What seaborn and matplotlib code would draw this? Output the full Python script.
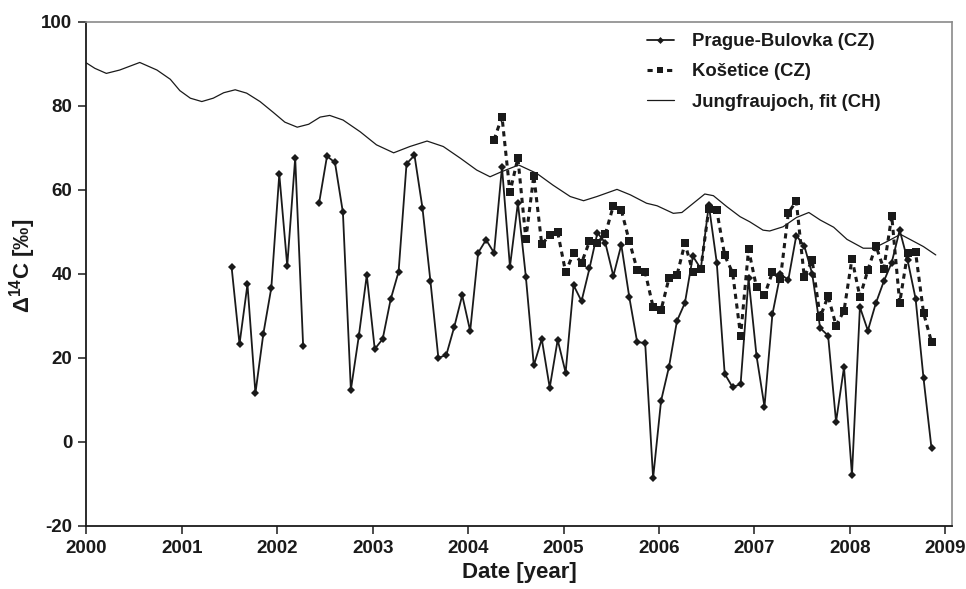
import numpy as np
import pandas as pd
import matplotlib
matplotlib.use("Agg")
import matplotlib.pyplot as plt
import seaborn as sns
from matplotlib.lines import Line2D

# ---------------- data ----------------
# Monthly samples, Prague-Bulovka from 2001-07 (None = missing month)
prague_start = "2001-07"
prague_values = [
    41.7, 23.3, 37.5, 11.6, 25.8, 36.7,                 # 2001 Jul-Dec
    63.7, 41.9, 67.6, 22.8, None, 56.8, 68.0, 66.5, 54.6, 12.4, 25.2, 39.7,   # 2002
    22.1, 24.5, 33.9, 40.5, 66.2, 68.2, 55.7, 38.3, 20.0, 20.7, 27.4, 34.9,   # 2003
    26.4, 45.0, 48.1, 45.0, 65.4, 41.7, 56.9, 39.3, 18.2, 24.5, 12.9, 24.3,   # 2004
    16.5, 37.3, 33.5, 41.3, 49.8, 47.3, 39.5, 46.9, 34.5, 23.7, 23.6, -8.6,   # 2005
    9.8, 17.9, 28.8, 33.1, 44.2, 41.2, 56.4, 42.7, 16.2, 13.0, 13.8, 38.9,    # 2006
    20.5, 8.4, 30.4, 39.9, 38.6, 49.1, 46.7, 40.0, 27.1, 25.3, 4.8, 17.8,     # 2007
    -7.9, 32.1, 26.5, 33.0, 38.2, 42.7, 50.4, 43.2, 34.1, 15.1, -1.5,         # 2008 Jan-Nov
]

# Monthly samples, Kosetice from 2004-04
kosetice_start = "2004-04"
kosetice_values = [
    71.9, 77.4, 59.4, 67.6, 48.3, 63.4, 47.0, 49.2, 49.9,                     # 2004 Apr-Dec
    40.4, 45.0, 42.6, 47.7, 47.3, 49.5, 56.2, 55.2, 47.8, 41.0, 40.4, 32.1,   # 2005
    31.4, 39.0, 39.7, 47.3, 40.4, 41.2, 55.5, 55.1, 44.4, 40.2, 25.3, 45.8,   # 2006
    36.8, 34.9, 40.4, 38.8, 54.5, 57.3, 39.3, 43.2, 29.7, 34.7, 27.7, 31.2,   # 2007
    43.6, 34.5, 40.9, 46.7, 41.2, 53.8, 33.1, 45.0, 45.1, 30.7, 23.8,         # 2008 Jan-Nov
]
sample_day = 9  # approximate sampling day within each month

# Jungfraujoch fit curve (decimal year, value)
jf_years = [
    2000.00, 2000.09, 2000.21, 2000.35, 2000.56, 2000.74, 2000.88, 2000.98,
    2001.09, 2001.21, 2001.33, 2001.44, 2001.56, 2001.68, 2001.82, 2001.96,
    2002.08, 2002.21, 2002.33, 2002.45, 2002.55, 2002.69, 2002.87, 2003.04,
    2003.22, 2003.39, 2003.57, 2003.74, 2003.92, 2004.09, 2004.23, 2004.35,
    2004.53, 2004.72, 2004.89, 2005.07, 2005.21, 2005.35, 2005.56, 2005.70,
    2005.87, 2005.98, 2006.15, 2006.24, 2006.36, 2006.48, 2006.57, 2006.71,
    2006.85, 2006.95, 2007.09, 2007.16, 2007.30, 2007.44, 2007.57, 2007.69,
    2007.83, 2007.97, 2008.14, 2008.25, 2008.39, 2008.53, 2008.63, 2008.77,
    2008.90,
]
jf_values = [
    90.2, 88.9, 87.7, 88.5, 90.3, 88.5, 86.3, 83.6,
    81.8, 81.0, 81.8, 83.1, 83.8, 83.0, 81.0, 78.4,
    76.1, 74.9, 75.6, 77.3, 77.7, 76.6, 73.8, 70.7,
    68.8, 70.3, 71.6, 70.3, 67.5, 64.7, 63.1, 64.3,
    65.9, 63.9, 61.1, 58.4, 57.4, 58.4, 60.1, 58.8,
    56.8, 56.2, 54.4, 54.6, 56.8, 59.0, 58.6, 56.0,
    53.6, 52.4, 50.4, 50.2, 51.2, 53.4, 54.6, 52.8,
    51.1, 48.2, 46.1, 46.1, 47.7, 49.4, 48.2, 46.5,
    44.5,
]

series_labels = ["Prague-Bulovka (CZ)", "Košetice (CZ)", "Jungfraujoch, fit (CH)"]
x_ticks = list(range(2000, 2010))
y_ticks = list(range(-20, 101, 20))


def monthly_frame(start, values):
    per = pd.period_range(start=start, periods=len(values), freq="M")
    dec = per.year + (per.month - 1) / 12.0 + (sample_day - 1) / 365.25
    df = pd.DataFrame({"date": np.asarray(dec, dtype=float),
                       "value": pd.array(values, dtype="Float64").astype(float)})
    # separate contiguous segments so missing months leave a gap
    df["seg"] = df["value"].isna().cumsum()
    return df.dropna(subset=["value"])


prague = monthly_frame(prague_start, prague_values)
kosetice = monthly_frame(kosetice_start, kosetice_values)
jf = pd.DataFrame({"date": jf_years, "value": jf_values})

# ---------------- styling ----------------
sns.set_theme(style="ticks")
plt.rcParams["font.family"] = ["Liberation Sans", "DejaVu Sans"]
plt.rcParams["font.weight"] = "bold"
plt.rcParams["mathtext.fontset"] = "custom"
plt.rcParams["mathtext.rm"] = "Liberation Sans:bold"
plt.rcParams["mathtext.it"] = "Liberation Sans:bold"
plt.rcParams["mathtext.bf"] = "Liberation Sans:bold"

ink = "#1a1a1a"
fig = plt.figure(figsize=(9.66, 5.89), dpi=100)
ax = fig.add_axes([86.3 / 966, 1 - 526 / 589, (952 - 86.3) / 966, (526 - 21.7) / 589])

sns.lineplot(data=jf, x="date", y="value", ax=ax, color=ink, lw=0.9,
             estimator=None, sort=False, legend=False)
sns.lineplot(data=kosetice, x="date", y="value", units="seg", estimator=None,
             ax=ax, color=ink, lw=2.2, dashes=False, legend=False,
             marker="s", markersize=6.2, markeredgewidth=0, sort=False)
for line in ax.lines[1:]:
    line.set_dashes((1.7, 1.5))
sns.lineplot(data=prague, x="date", y="value", units="seg", estimator=None,
             ax=ax, color=ink, lw=1.3, legend=False,
             marker="D", markersize=4.5, markeredgewidth=0, sort=False)

ax.set_xlim(2000, 2009.07)
ax.set_ylim(-20, 100)
ax.set_xticks(x_ticks)
ax.set_xticklabels([str(t) for t in x_ticks])
ax.set_yticks(y_ticks)
ax.set_yticklabels([str(t) for t in y_ticks])
ax.tick_params(axis="both", direction="out", length=6, width=1.1, color=ink,
               labelsize=13.5, labelcolor=ink, pad=4)

for side in ["left", "bottom"]:
    ax.spines[side].set_color(ink)
    ax.spines[side].set_linewidth(1.3)
for side in ["top", "right"]:
    ax.spines[side].set_visible(True)
    ax.spines[side].set_color("#8a8a8a")
    ax.spines[side].set_linewidth(1.2)

ax.set_xlabel("Date [year]", fontsize=16, fontweight="bold", color=ink)
ax.set_ylabel("Δ$^{14}$C [‰]", fontsize=16, fontweight="bold", color=ink)
ax.xaxis.set_label_coords(0.5, -0.071)
ax.yaxis.set_label_coords(-0.056, 0.515)

handles = [
    Line2D([], [], color=ink, lw=1.3, marker="D", markersize=3.5, markeredgewidth=0),
    Line2D([], [], color=ink, lw=2.2, dashes=(1.7, 1.5), marker="s", markersize=5,
           markeredgewidth=0),
    Line2D([], [], color=ink, lw=0.9),
]
leg = fig.legend(handles, series_labels, loc="upper left",
                 bbox_to_anchor=(647 / 966, 1 - 33 / 589), bbox_transform=fig.transFigure,
                 frameon=False, fontsize=13.3, handlelength=1.45, handletextpad=1.0,
                 labelspacing=0.72, borderpad=0, borderaxespad=0)
for t in leg.get_texts():
    t.set_color(ink)
    t.set_fontweight("bold")

fig.savefig("out.png", dpi=100)
